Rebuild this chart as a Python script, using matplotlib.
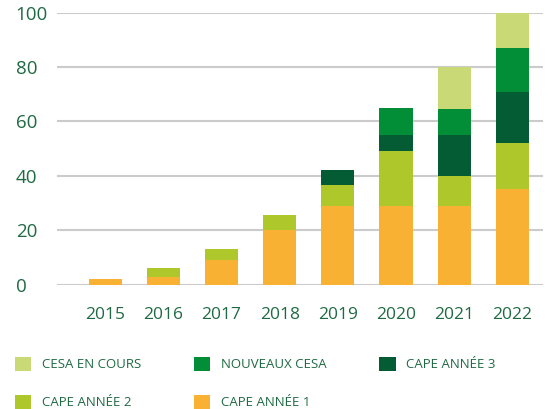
import numpy as np
import matplotlib.pyplot as plt
from matplotlib.patches import Patch

years = ['2015', '2016', '2017', '2018', '2019', '2020', '2021', '2022']
cape1 = [2, 3, 9, 20, 29, 29, 29, 35]
cape2 = [0, 3, 4, 5.5, 7.5, 20, 11, 17]
cape3 = [0, 0, 0, 0, 5.5, 6, 15, 19]
nouveaux_cesa = [0, 0, 0, 0, 0, 10, 9.5, 16]
cesa_en_cours = [0, 0, 0, 0, 0, 0, 15.5, 13]

series = [
    ('CAPE ANNÉE 1', cape1, '#f8b133'),
    ('CAPE ANNÉE 2', cape2, '#aec82c'),
    ('CAPE ANNÉE 3', cape3, '#035c33'),
    ('NOUVEAUX CESA', nouveaux_cesa, '#028d37'),
    ('CESA EN COURS', cesa_en_cours, '#c9d976'),
]

txt = '#1f6a43'
plt.rcParams['font.family'] = ['Open Sans', 'DejaVu Sans']

fig = plt.figure(figsize=(5.51, 4.09), dpi=100)
ax = fig.add_axes([0.103, 0.304, 0.882, 0.665])

x = np.arange(len(years))
bottom = np.zeros(len(years))
handles = {}
for name, vals, col in series:
    vals = np.array(vals, dtype=float)
    ax.bar(x, vals, 0.57, bottom=bottom, color=col, zorder=3)
    bottom += vals
    handles[name] = Patch(facecolor=col)

ax.set_ylim(0, 100)
ax.set_xlim(-0.834, 7.525)
ax.set_yticks([0, 20, 40, 60, 80, 100])
ax.set_xticks(x)
ax.set_xticklabels(years)
ax.grid(axis='y', color='#cbcbcb', linewidth=1.5, zorder=0)
for s in ax.spines.values():
    s.set_visible(False)
ax.tick_params(axis='both', length=0, labelcolor=txt)
ax.tick_params(axis='y', pad=29.5, labelsize=13.5)
ax.tick_params(axis='x', pad=16, labelsize=12.5)
for lbl in ax.get_yticklabels():
    lbl.set_horizontalalignment('left')

order = ['CESA EN COURS', 'CAPE ANNÉE 2', 'NOUVEAUX CESA', 'CAPE ANNÉE 1', 'CAPE ANNÉE 3']
leg = fig.legend([handles[n] for n in order], order, ncol=3, loc='upper left',
                 bbox_to_anchor=(0.027, 0.128), frameon=False, fontsize=9.5,
                 handlelength=1.25, handleheight=1.35, handletextpad=0.8,
                 columnspacing=4.0, labelspacing=1.75, borderpad=0,
                 borderaxespad=0)
for t in leg.get_texts():
    t.set_color(txt)

fig.savefig('out.png', dpi=100)
